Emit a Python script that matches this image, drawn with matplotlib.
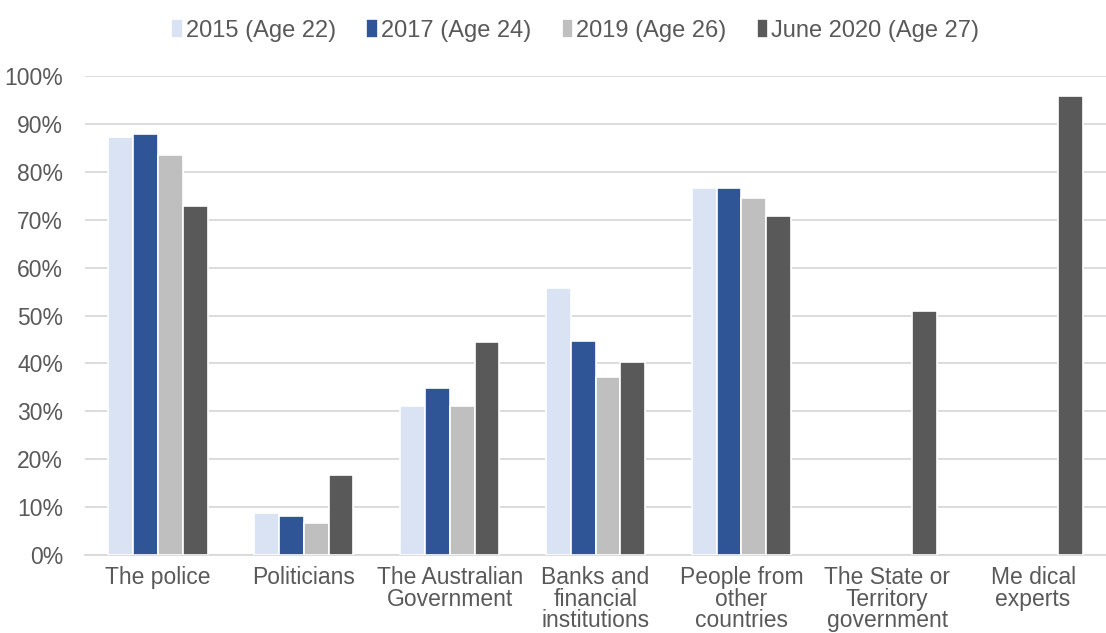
import numpy as np
import matplotlib.pyplot as plt

plt.rcParams['font.family'] = ['Liberation Sans', 'DejaVu Sans']

categories = ["The police", "Politicians", "The Australian\nGovernment",
              "Banks and\nfinancial\ninstitutions", "People from\nother\ncountries",
              "The State or\nTerritory\ngovernment", "Me dical\nexperts"]
series_names = ["2015 (Age 22)", "2017 (Age 24)", "2019 (Age 26)", "June 2020 (Age 27)"]
v2015 = [87.3, 8.8, 31.1, 55.8, 76.6, np.nan, np.nan]
v2017 = [87.9, 8.1, 34.9, 44.6, 76.6, np.nan, np.nan]
v2019 = [83.6, 6.7, 31.1, 37.1, 74.5, np.nan, np.nan]
v2020 = [72.9, 16.7, 44.5, 40.3, 70.8, 50.9, 95.8]
colors = ["#dae3f3", "#2f5597", "#bfbfbf", "#595959"]

fig = plt.figure(figsize=(11.06, 6.33), dpi=100)
ax = fig.add_axes([0.077, 0.123, 0.923, 0.757])

x = np.arange(len(categories))
w = 0.17
text_col = "#595959"
for i, (vals, name) in enumerate(zip([v2015, v2017, v2019, v2020], series_names)):
    ax.bar(x + (i - 1.5) * w, vals, width=w, color=colors[i], edgecolor="white",
           linewidth=1.2, label=name, zorder=3)

ax.set_ylim(0, 100)
ax.set_xlim(-0.5, len(categories) - 0.5)
ax.set_yticks(np.arange(0, 101, 10))
ax.set_yticklabels([f"{t}%" for t in range(0, 101, 10)])
ax.set_xticks(x)
ax.set_xticklabels(categories, linespacing=0.92)
ax.tick_params(axis="both", length=0, labelsize=16.5, colors=text_col)
ax.tick_params(axis="y", pad=16)
ax.tick_params(axis="x", pad=8)
ax.grid(axis="y", color="#d9d9d9", linewidth=1.3, zorder=0)
for s in ["top", "right", "left"]:
    ax.spines[s].set_visible(False)
ax.spines["bottom"].set_color("#d9d9d9")
ax.spines["bottom"].set_linewidth(1.3)

ax.legend(loc="upper center", bbox_to_anchor=(0.48, 1.164), ncol=4, frameon=False,
          fontsize=17, labelcolor=text_col, handlelength=0.5, handleheight=0.9,
          handletextpad=0.1, columnspacing=1.3)

fig.savefig("out.png", dpi=100)
